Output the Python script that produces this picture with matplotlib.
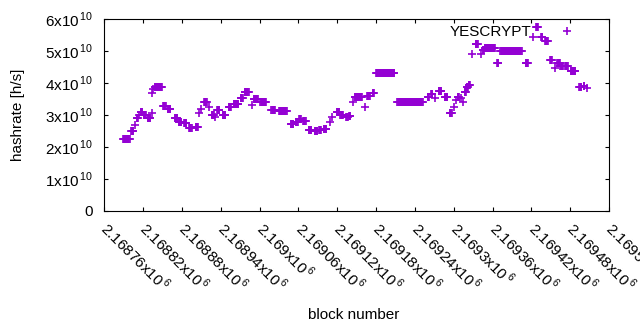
import numpy as np
import matplotlib
matplotlib.use('Agg')
import matplotlib.pyplot as plt
from matplotlib.ticker import FixedLocator, FuncFormatter

plt.rcParams['font.family'] = ['Liberation Sans', 'DejaVu Sans']
plt.rcParams['mathtext.fontset'] = 'custom'
plt.rcParams['mathtext.rm'] = 'Liberation Sans'
plt.rcParams['font.size'] = 11

# runs of blocks with the same estimated hashrate (block offset from base, inclusive)
base_block = 2168760
run_start = [29, 42, 48, 50, 54, 56, 61, 67, 73, 74, 76, 78, 91, 98, 109, 115, 123, 131,
             141, 147, 150, 154, 162, 166, 171, 174, 183, 192, 200, 211, 217, 228, 231, 241,
             258, 270, 288, 296, 301, 307, 316, 325, 332, 339, 349, 352, 359, 365, 374, 378,
             385, 387, 403, 406, 415, 420, 453, 500, 505, 511, 517, 526, 534, 541, 544, 546,
             552, 555, 557, 560, 563, 568, 574, 582, 585, 588, 607, 612, 651, 662, 667, 675,
             681, 689, 696, 700, 705, 712, 721, 734, 741, 746]
run_end = [39, 45, 48, 52, 54, 59, 64, 71, 73, 74, 76, 89, 95, 102, 113, 119, 127, 135,
           145, 147, 150, 158, 162, 169, 171, 178, 187, 196, 207, 214, 223, 228, 237, 250,
           264, 282, 292, 299, 304, 311, 320, 329, 335, 343, 349, 352, 363, 369, 376, 380,
           385, 398, 403, 410, 417, 448, 492, 502, 507, 511, 521, 530, 537, 541, 544, 548,
           552, 555, 559, 562, 565, 568, 577, 582, 587, 604, 609, 645, 655, 662, 670, 677,
           685, 692, 696, 704, 709, 716, 728, 737, 742, 746]
run_rate = [2.24, 2.51, 2.68, 2.90, 3.00, 3.10, 3.00, 2.90, 3.05, 3.68, 3.80, 3.87, 3.29, 3.19,
            2.90, 2.79, 2.74, 2.58, 2.63, 3.05, 3.19, 3.42, 3.24, 3.00, 2.93, 3.16, 3.00, 3.26,
            3.33, 3.52, 3.71, 3.31, 3.49, 3.40, 3.16, 3.13, 2.71, 2.77, 2.88, 2.81, 2.53, 2.50,
            2.53, 2.55, 2.79, 2.93, 3.08, 3.00, 2.93, 2.97, 3.40, 3.55, 3.26, 3.59, 3.68, 4.30,
            3.42, 3.57, 3.65, 3.52, 3.75, 3.55, 3.07, 3.26, 3.47, 3.57, 3.52, 3.42, 3.73, 3.87,
            3.94, 4.91, 5.21, 4.91, 5.03, 5.08, 4.61, 5.00, 4.61, 5.43, 5.74, 5.43, 5.32, 4.72,
            4.46, 4.61, 4.53, 4.53, 4.38, 3.87, 3.92, 3.83]  # x10^10 h/s

x_ticks = np.arange(2168760, 2169541, 60)
y_ticks = [0, 1e10, 2e10, 3e10, 4e10, 5e10, 6e10]

blocks = np.concatenate([np.arange(s, e + 1) for s, e in zip(run_start, run_end)]) + base_block
rates = np.concatenate([np.full(e - s + 1, r * 1e10) for s, e, r in zip(run_start, run_end, run_rate)])

fig = plt.figure(figsize=(6.4, 3.3), dpi=100)
ax = fig.add_axes([104.3 / 640, 1 - 211 / 330, (609 - 104.3) / 640, 192 / 330])

ax.plot(blocks, rates, ls='none', marker='+', ms=6, mew=1.2, color='#9400d3', label='YESCRYPT')

ax.set_xlim(2168760, 2169540)
ax.set_ylim(0, 6e10)
ax.xaxis.set_major_locator(FixedLocator(x_ticks))
ax.yaxis.set_major_locator(FixedLocator(y_ticks))
ax.xaxis.set_major_formatter(FuncFormatter(lambda v, p: '%gx10$^{\\,6}$' % (v / 1e6)))
ax.yaxis.set_major_formatter(FuncFormatter(lambda v, p: '0' if v == 0 else '%dx10$^{\\,10}$' % round(v / 1e10)))
ax.tick_params(direction='in', length=3.2, width=0.8, top=True, right=True, colors='black')
ax.tick_params(axis='y', pad=8)
ax.tick_params(axis='x', pad=10)
for lbl in ax.get_xticklabels():
    lbl.set_rotation(-45)
    lbl.set_ha('left')
    lbl.set_va('center')
    lbl.set_rotation_mode('anchor')
for s in ax.spines.values():
    s.set_linewidth(0.8)

ax.legend(loc='center right', bbox_to_anchor=(0.962, 0.932), frameon=False, markerfirst=False,
          handlelength=3, handletextpad=0.8, borderpad=0, borderaxespad=0)

fig.text(18 / 640, 1 - 115 / 330, 'hashrate [h/s]', rotation=90, ha='center', va='center')
fig.text(354 / 640, 1 - 315 / 330, 'block number', ha='center', va='center')

fig.savefig('out.png', dpi=100)
